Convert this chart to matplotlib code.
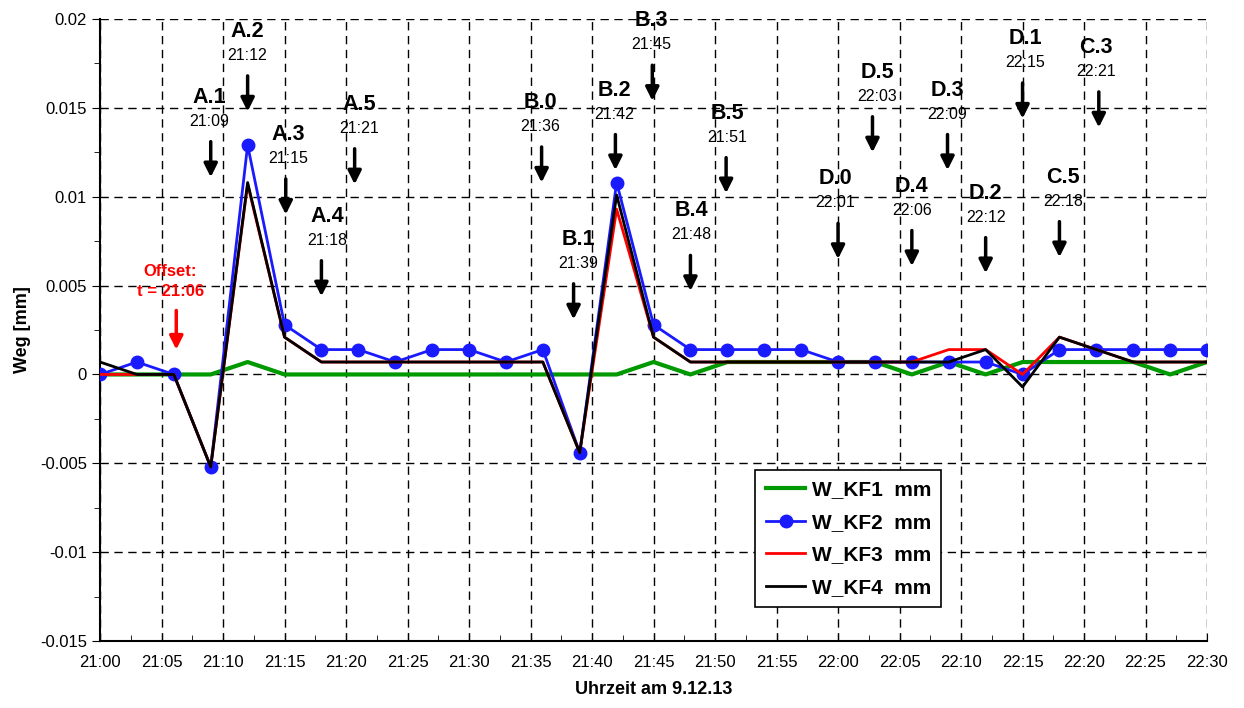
import matplotlib
matplotlib.use('Agg')
import matplotlib.pyplot as plt
import numpy as np

plt.rcParams['font.family'] = ['Liberation Sans', 'DejaVu Sans']

# time in minutes after 21:00, one reading every 3 min
minutes = list(range(0, 91, 3))

kf1 = [0, 0, 0, 0, 0.0007, 0, 0, 0, 0, 0, 0, 0, 0, 0, 0, 0.0007,
       0, 0.0007, 0.0007, 0.0007, 0.0007, 0.0007, 0, 0.0007, 0, 0.0007,
       0.0007, 0.0007, 0.0007, 0, 0.0007]
kf2 = [0, 0.0007, 0, -0.0052, 0.0129, 0.0028, 0.0014, 0.0014, 0.0007, 0.0014,
       0.0014, 0.0007, 0.0014, -0.0044, 0.0108, 0.0028, 0.0014, 0.0014, 0.0014,
       0.0014, 0.0007, 0.0007, 0.0007, 0.0007, 0.0007, 0, 0.0014, 0.0014,
       0.0014, 0.0014, 0.0014]
kf3 = [0, 0, 0, -0.0052, 0.0107, 0.0021, 0.0007, 0.0007, 0.0007, 0.0007,
       0.0007, 0.0007, 0.0007, -0.0044, 0.0093, 0.0021, 0.0007, 0.0007, 0.0007,
       0.0007, 0.0007, 0.0007, 0.0007, 0.0014, 0.0014, 0, 0.0021, 0.0014,
       0.0007, 0.0007, 0.0007]
kf4 = [0.0007, 0, 0, -0.0052, 0.0108, 0.0021, 0.0007, 0.0007, 0.0007, 0.0007,
       0.0007, 0.0007, 0.0007, -0.0044, 0.0101, 0.0021, 0.0007, 0.0007, 0.0007,
       0.0007, 0.0007, 0.0007, 0.0007, 0.0007, 0.0014, -0.0007, 0.0021, 0.0014,
       0.0007, 0.0007, 0.0007]

tick_minutes = list(range(0, 91, 5))
tick_labels = ['21:00', '21:05', '21:10', '21:15', '21:20', '21:25', '21:30',
               '21:35', '21:40', '21:45', '21:50', '21:55', '22:00', '22:05',
               '22:10', '22:15', '22:20', '22:25', '22:30']

# load step markers: name, time text, arrow x (min), arrow tip (mm)
step_names = ['A.1', 'A.2', 'A.3', 'A.4', 'A.5', 'B.0', 'B.1', 'B.2', 'B.3', 'B.4',
              'B.5', 'D.0', 'D.5', 'D.4', 'D.3', 'D.2', 'D.1', 'C.5', 'C.3']
step_times = ['21:09', '21:12', '21:15', '21:18', '21:21', '21:36', '21:39', '21:42',
              '21:45', '21:48', '21:51', '22:01', '22:03', '22:06', '22:09', '22:12',
              '22:15', '22:18', '22:21']
step_x = [9, 12, 15.1, 18, 20.7, 35.9, 38.5, 41.9, 44.9, 48, 50.9, 60, 62.8, 66,
          68.9, 72, 75, 78, 81.2]
step_text_x = [8.9, 12, 15.3, 18.5, 21.1, 35.8, 38.9, 41.8, 44.8, 48.1, 51, 59.8,
               63.2, 66, 68.9, 72, 75.2, 78.3, 81]
step_tip = [0.0111, 0.0148, 0.0090, 0.0044, 0.0107, 0.0108, 0.0031, 0.0115, 0.0154,
            0.0047, 0.0102, 0.0065, 0.0125, 0.0061, 0.0115, 0.0057, 0.0144, 0.0066,
            0.0139]

fig = plt.figure(figsize=(12.44, 7.08), dpi=100)
ax = fig.add_axes([0.0804, 0.0946, 0.8899, 0.8785])

ax.plot(minutes, kf1, color='#009900', lw=3, label='W_KF1  mm', zorder=3)
ax.plot(minutes, kf2, color='#1a1aff', lw=2, marker='o', ms=9, label='W_KF2  mm', zorder=4)
ax.plot(minutes, kf3, color='#ff0000', lw=2, label='W_KF3  mm', zorder=5)
ax.plot(minutes, kf4, color='#000000', lw=2, label='W_KF4  mm', zorder=6)

ax.set_xlim(0, 90)
ax.set_ylim(-0.015, 0.02)
ax.set_xticks(tick_minutes)
ax.set_xticklabels(tick_labels)
ax.set_xticks(np.arange(2.5, 90, 5), minor=True)
ax.set_yticks(np.arange(-0.015, 0.0201, 0.005))
ax.set_yticklabels(['-0.015', '-0.01', '-0.005', '0', '0.005', '0.01', '0.015', '0.02'])
ax.set_yticks(np.arange(-0.0125, 0.02, 0.005), minor=True)
ax.tick_params(axis='x', which='both', direction='in', labelsize=12, pad=10)
ax.tick_params(axis='x', which='major', length=6)
ax.tick_params(axis='x', which='minor', length=4)
ax.tick_params(axis='y', which='both', direction='out', labelsize=12)
ax.tick_params(axis='y', which='major', length=6)
ax.tick_params(axis='y', which='minor', length=4)

ax.grid(True, which='major', color='black', linestyle=(0, (6, 4)), lw=1)
ax.spines['top'].set_visible(False)
ax.spines['right'].set_visible(False)
ax.spines['left'].set_linewidth(1.5)
ax.spines['bottom'].set_linewidth(1.5)

ax.set_xlabel('Uhrzeit am 9.12.13', fontsize=13, fontweight='bold', labelpad=8)
ax.set_ylabel('Weg [mm]', fontsize=13, fontweight='bold', labelpad=6)

arrow_kw = dict(arrowstyle='-|>', lw=2.5, mutation_scale=20, shrinkA=0, shrinkB=0)

# offset mark
ax.annotate('', xy=(6.2, 0.0014), xytext=(6.2, 0.0036),
            arrowprops=dict(color='red', **arrow_kw))
ax.text(5.7, 0.0058, 'Offset:', color='red', fontsize=12, fontweight='bold',
        ha='center', va='center')
ax.text(5.7, 0.00466, 't = 21:06', color='red', fontsize=12, fontweight='bold',
        ha='center', va='center')

# step annotations
for name, t, xa, xt, tip in zip(step_names, step_times, step_x, step_text_x, step_tip):
    ax.annotate('', xy=(xa, tip), xytext=(xa, tip + 0.002),
                arrowprops=dict(color='black', **arrow_kw))
    ax.text(xt, tip + 0.00315, t, fontsize=11.5, ha='center', va='center')
    ax.text(xt, tip + 0.0045, name, fontsize=15.5, fontweight='bold', ha='center', va='center')

leg = ax.legend(loc='lower left', bbox_to_anchor=(0.592, 0.054),
                prop={'weight': 'bold', 'size': 15}, frameon=True, fancybox=False,
                framealpha=1, edgecolor='black', handlelength=1.9, handletextpad=0.3,
                borderpad=0.5, labelspacing=0.65, borderaxespad=0)
leg.get_frame().set_linewidth(1.2)

fig.savefig('out.png', dpi=100)
